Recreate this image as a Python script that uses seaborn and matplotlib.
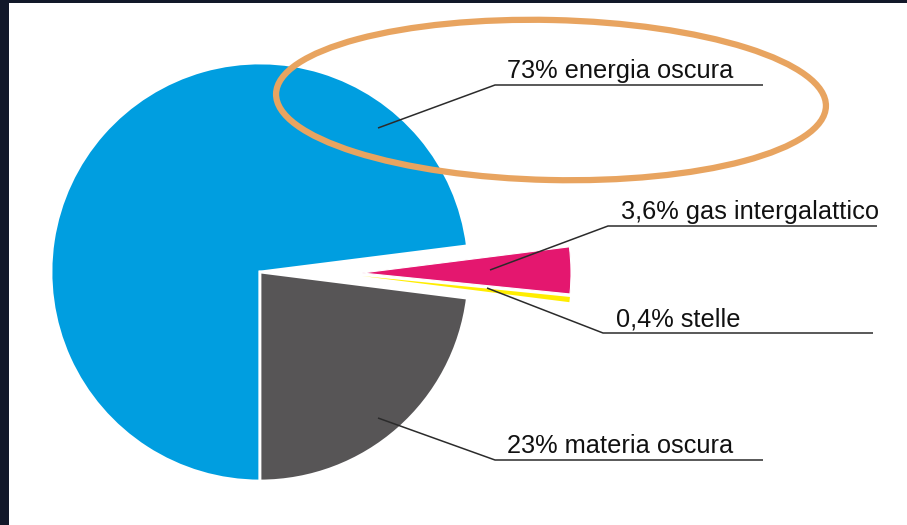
import matplotlib
matplotlib.use("Agg")
import matplotlib.pyplot as plt
from matplotlib.patches import Ellipse, Rectangle
import seaborn as sns

# ---- data ----
labels = ["energia oscura", "materia oscura", "stelle", "gas intergalattico"]
values = [73, 23, 0.4, 3.6]
colors = ["#009EE0", "#575556", "#FFED00", "#E4176F"]

sns.set_theme(style="white")
plt.rcParams["font.family"] = ["Liberation Sans", "DejaVu Sans"]

W, H = 907, 525
fig = plt.figure(figsize=(W / 100, H / 100), dpi=100)
fig.patch.set_facecolor("white")
ax = fig.add_axes([0, 0, 1, 1])


def fy(y):
    """pixel y (top-down) -> data y (bottom-up)"""
    return H - y


center = (260, fy(272))
radius = 209
wedges, _ = ax.pie(values, colors=colors, startangle=7.2, counterclock=True,
                   center=center, radius=radius,
                   wedgeprops=dict(edgecolor="white", linewidth=2.0))
# pull the small slices (stelle, gas) out to the right
wedges[3].set_center((362, fy(273)))
wedges[2].set_center((362, fy(276)))
wedges[2].set_linewidth(0.0)
wedges[3].set_linewidth(0.8)

ax.set_xlim(0, W)
ax.set_ylim(0, H)
ax.set_aspect("equal")
ax.axis("off")


def fmt(v):
    s = f"{v:g}"
    return s.replace(".", ",")


# label layout: (anchor inside slice, elbow, line end, text x, baseline)
layout = {
    "energia oscura": ((378, 128), (495, 85), (763, 85), 507, 78),
    "materia oscura": ((378, 418), (495, 460), (763, 460), 507, 453),
    "stelle": ((487, 288), (603, 333), (873, 333), 616, 326),
    "gas intergalattico": ((490, 270), (608, 226), (877, 226), 621, 219),
}
for lab, v in zip(labels, values):
    a, e, end, tx, ty = layout[lab]
    ax.plot([a[0], e[0], end[0]], [fy(a[1]), fy(e[1]), fy(end[1])],
            color="#2b2b2b", lw=1.1, solid_capstyle="butt", zorder=5)
    ax.text(tx, fy(ty), f"{fmt(v)}% {lab}", ha="left", va="baseline",
            fontsize=18.3, color="#111111", zorder=6)

# orange highlight ellipse
ax.add_patch(Ellipse((551, fy(100)), 550, 160, angle=-1.3, fill=False,
                     edgecolor="#E8A460", lw=4.5, zorder=7))

# dark frame on left and top
fig.patches.append(Rectangle((0, 0), 9 / W, 1, transform=fig.transFigure,
                             facecolor="#121829", edgecolor="none", zorder=10))
fig.patches.append(Rectangle((0, 1 - 3 / H), 1, 3 / H, transform=fig.transFigure,
                             facecolor="#121829", edgecolor="none", zorder=10))

fig.savefig("out.png", dpi=100, facecolor="white")
